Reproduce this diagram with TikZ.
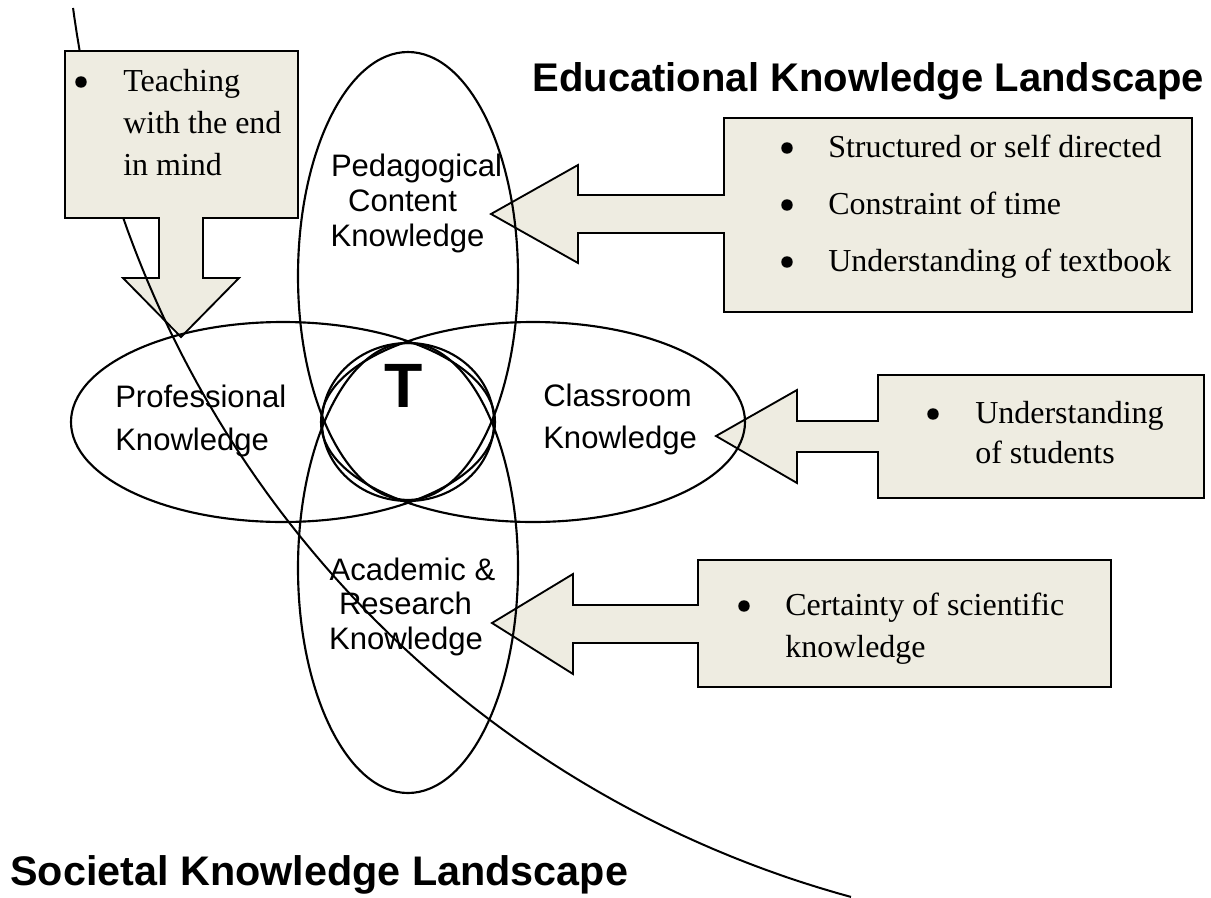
\documentclass[tikz,border=0pt]{standalone}
\usepackage{fontspec}
\setmainfont{Liberation Serif}
\newfontfamily\arialf{Liberation Sans}
\usetikzlibrary{shapes.geometric}
\definecolor{calloutfill}{RGB}{238,236,225}
\begin{document}
\begin{tikzpicture}[x=0.75pt,y=-0.75pt,
  ring/.style={draw=black,line width=1.6pt,ellipse,inner sep=0pt,outer sep=0pt},
  callout/.style={draw=black,fill=calloutfill,line width=1.4pt,line join=miter},
  bigarc/.style={draw=black,line width=1.5pt},
  boxtext/.style={inner sep=0pt,anchor=base west,font=\fontsize{24}{28}\selectfont},
  bul/.style={fill=black,circle,inner sep=0pt,minimum size=8.6pt},
  lbl/.style={inner sep=0pt,anchor=base,font=\arialf\fontsize{23.3}{28}\selectfont},
  lbll/.style={lbl,anchor=base west},
  title/.style={inner sep=0pt,font=\arialf\bfseries\fontsize{30}{36}\selectfont}]
\useasboundingbox (0,0) rectangle (1211,897);

% callouts
\draw[callout] (65,51) -- (298,51) -- (298,218) -- (203,218) -- (203,278) -- (239,278) -- (181,337) -- (123,278) -- (159,278) -- (159,218) -- (65,218) -- cycle;
\draw[callout] (724,118) -- (1192,118) -- (1192,312) -- (724,312) -- (724,233) -- (578,233) -- (578,263) -- (491,214) -- (578,165) -- (578,195) -- (724,195) -- cycle;
\draw[callout] (878,375) -- (1204,375) -- (1204,498) -- (878,498) -- (878,452) -- (797,452) -- (797,483) -- (716,436) -- (797,390) -- (797,421) -- (878,421) -- cycle;
\draw[callout] (698,560) -- (1111,560) -- (1111,687) -- (698,687) -- (698,643) -- (573,643) -- (573,674) -- (492,623) -- (573,574) -- (573,605) -- (698,605) -- cycle;

% ellipses
\node[ring,minimum width=165pt,minimum height=336pt] (pck) at (408,276) {};
\node[ring,minimum width=165pt,minimum height=337.5pt] (ark) at (408,568) {};
\node[ring,minimum width=318pt,minimum height=150pt] (pk) at (283,422) {};
\node[ring,minimum width=318pt,minimum height=150pt] (ck) at (533,422) {};
\node[ring,minimum width=129pt,minimum height=118.5pt] (tc) at (408,422) {};

% big arc (hidden behind the top-left box)
\draw[bigarc] plot[domain=170.0:172.35,samples=6] ({1132.5+1069*cos(\x)},{-134.3+1069*sin(\x)});
\draw[bigarc] plot[domain=105.27:160.76,samples=150] ({1132.5+1069*cos(\x)},{-134.3+1069*sin(\x)});

% callout texts
\node[bul] (ba) at (81,82) {};
\node[boxtext] (ta1) at (123,91) {Teaching};
\node[boxtext] (ta2) at (123,133) {with the end};
\node[boxtext] (ta3) at (123,175) {in mind};

\node[bul] (bb1) at (787,148) {};
\node[bul] (bb2) at (787,205) {};
\node[bul] (bb3) at (787,262) {};
\node[boxtext] (tb1) at (828,157) {Structured or self directed};
\node[boxtext] (tb2) at (828,214) {Constraint of time};
\node[boxtext] (tb3) at (828,271) {Understanding of textbook};

\node[bul] (bc) at (933,414) {};
\node[boxtext] (tc1) at (975,423) {Understanding};
\node[boxtext] (tc2) at (975,463) {of students};

\node[bul] (bd) at (744,606) {};
\node[boxtext] (td1) at (785,615) {Certainty of scientific};
\node[boxtext] (td2) at (785,657) {knowledge};

% ellipse labels
\node[lbl] (p1) at (416.5,176) {Pedagogical};
\node[lbl] (p2) at (402.5,211) {Content};
\node[lbl] (p3) at (407.5,246) {Knowledge};
\node[lbll] (q1) at (115,407) {Professional};
\node[lbll] (q2) at (115,450) {Knowledge};
\node[lbll] (c1) at (543,406) {Classroom};
\node[lbll] (c2) at (543,448) {Knowledge};
\node[lbl] (a1) at (412.5,580) {Academic \&};
\node[lbl] (a2) at (405.5,614.5) {Research};
\node[lbl] (a3) at (406,649) {Knowledge};
\node[inner sep=0pt,anchor=base,font=\arialf\bfseries\fontsize{47}{50}\selectfont] (tt) at (404,407) {T};

% titles
\node[title,anchor=base east] (edu) at (1204,91) {Educational Knowledge Landscape};
\node[title,anchor=base west,font=\arialf\bfseries\fontsize{31}{36}\selectfont] (soc) at (10,885) {Societal Knowledge Landscape};
\end{tikzpicture}
\end{document}
